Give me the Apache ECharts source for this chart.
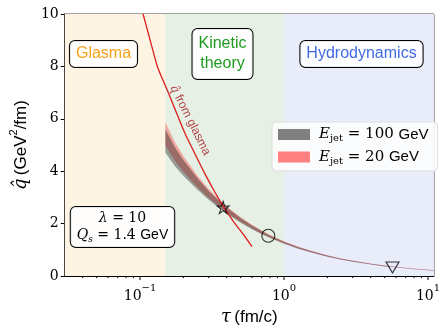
<!DOCTYPE html>
<html>
<head>
<meta charset="utf-8">
<script src="https://cdn.jsdelivr.net/npm/echarts@6/dist/echarts.min.js"></script>
<style>html,body{margin:0;padding:0;background:#fff}#c{width:443px;height:331px}</style>
</head>
<body>
<div id="c"></div>
<script>
// ---- data ----
const taus      = [0.15, 0.175, 0.2, 0.25, 0.3, 0.35, 0.4, 0.5, 0.6, 0.7, 0.8, 1.0, 1.25, 1.5, 2, 2.5, 3, 4, 5, 6, 8, 11];
const gray100Lo = [4.72, 4.19, 3.83, 3.30, 2.91, 2.62, 2.38, 2.04, 1.79, 1.60, 1.45, 1.23, 1.045, 0.915, 0.74, 0.625, 0.545, 0.44, 0.37, 0.325, 0.262, 0.205];
const gray100Hi = [5.60, 4.91, 4.43, 3.74, 3.25, 2.90, 2.62, 2.22, 1.93, 1.72, 1.55, 1.31, 1.115, 0.975, 0.79, 0.665, 0.585, 0.47, 0.40, 0.349, 0.282, 0.225];
const red20Lo   = [4.98, 4.39, 3.98, 3.40, 2.98, 2.67, 2.42, 2.07, 1.815, 1.62, 1.47, 1.25, 1.06, 0.93, 0.75, 0.635, 0.555, 0.45, 0.378, 0.333, 0.268, 0.21];
const red20Hi   = [5.87, 5.11, 4.58, 3.84, 3.32, 2.95, 2.66, 2.25, 1.955, 1.74, 1.57, 1.33, 1.13, 0.99, 0.80, 0.675, 0.595, 0.48, 0.408, 0.357, 0.288, 0.23];
const glasmaTau = [0.105, 0.115, 0.123, 0.132, 0.145, 0.16, 0.18, 0.207, 0.24, 0.282, 0.33, 0.382, 0.45, 0.52, 0.6];
const glasmaQ   = [10, 9.2, 8.6, 8.0, 7.45, 6.9, 6.2, 5.4, 4.68, 3.91, 3.22, 2.63, 2.05, 1.6, 1.12];
const starPt = [0.378, 2.62];
const circlePt = [0.778, 1.54];
const trianglePt = [5.67, 0.33];
const regions = [[0.03, 0.15, '#fdf4e4'], [0.15, 1.0, '#e6f0e4'], [1.0, 11, '#e9edfa']];
const xMajor = [0.1, 1, 10];
const xMinor = [0.04,0.05,0.06,0.07,0.08,0.09,0.2,0.3,0.4,0.5,0.6,0.7,0.8,0.9,2,3,4,5,6,7,8,9];

const chart = echarts.init(document.getElementById('c'), null, {renderer: 'canvas'});
const SERIF = '"DejaVu Serif"';
const SANS = '"Liberation Sans"';

function tickSeries(vals, len) {
  return {
    type: 'custom', silent: true, clip: false, z: 10,
    data: vals.map(v => [v, 0]),
    renderItem: (params, api) => {
      const p = api.coord([api.value(0), 0]);
      return {type: 'line', shape: {x1: p[0], y1: p[1], x2: p[0], y2: p[1] + len},
              style: {stroke: '#000', lineWidth: 1}};
    }
  };
}

function bandSeries(name, lo, hi, fill, legendColor) {
  return {
    type: 'custom', name: name, silent: true, z: 3,
    itemStyle: {color: legendColor},
    encode: {x: 0, y: [1, 2]},
    data: taus.map((t, i) => [t, lo[i], hi[i]]),
    renderItem: (params, api) => {
      if (params.dataIndexInside !== 0) return null;
      const n = params.dataInsideLength;
      const top = [], bot = [];
      for (let i = 0; i < n; i++) {
        bot.push(api.coord([api.value(0, i), api.value(1, i)]));
        top.push(api.coord([api.value(0, i), api.value(2, i)]));
      }
      return {type: 'polygon', shape: {points: bot.concat(top.reverse())},
              style: {fill: fill, stroke: null}};
    }
  };
}

const option = {
  animation: false,
  grid: {left: 59, right: 5, top: 14, bottom: 50, show: true, borderColor: '#444', borderWidth: 1},
  xAxis: {
    type: 'log', logBase: 10, min: 0.03, max: 11,
    splitLine: {show: false},
    axisLine: {lineStyle: {color: '#000', width: 1}},
    axisTick: {show: false},
    axisLabel: {
      margin: 7,
      formatter: v => {
        const e = Math.round(Math.log10(v));
        if (Math.abs(Math.log10(v) - e) > 1e-6) return '';
        return '{b|10}{s|' + (e < 0 ? '\u2212' + (-e) : e) + '}';
      },
      rich: {
        b: {fontFamily: SERIF, fontSize: 14, color: '#000', lineHeight: 20, verticalAlign: 'bottom'},
        s: {fontFamily: SERIF, fontSize: 10, color: '#000', lineHeight: 20, verticalAlign: 'top'}
      }
    },
    name: '{t|\u03c4} {s|(fm/c)}', nameLocation: 'middle', nameGap: 30,
    nameTextStyle: {rich: {
      t: {fontFamily: SERIF, fontStyle: 'italic', fontSize: 18, color: '#000'},
      s: {fontFamily: SANS, fontSize: 17, color: '#000'}
    }}
  },
  yAxis: {
    type: 'value', min: 0, max: 10, interval: 2,
    splitLine: {show: false},
    axisLine: {show: true, lineStyle: {color: '#000', width: 1}},
    axisTick: {show: true, length: 4, lineStyle: {color: '#000'}},
    axisLabel: {fontFamily: SERIF, fontSize: 14, color: '#000', margin: 6},
    name: '{q|q\u0302} {s|(GeV}{p|2}{s|/fm)}', nameLocation: 'middle', nameGap: 27,
    nameTextStyle: {rich: {
      q: {fontFamily: SERIF, fontStyle: 'italic', fontSize: 18, color: '#000', lineHeight: 22, verticalAlign: 'bottom'},
      s: {fontFamily: SANS, fontSize: 17, color: '#000', lineHeight: 22, verticalAlign: 'bottom'},
      p: {fontFamily: SANS, fontSize: 11, color: '#000', lineHeight: 22, verticalAlign: 'top'}
    }}
  },
  legend: {
    orient: 'vertical', left: 272, top: 122,
    padding: [5, 9, 5, 6], itemGap: 6, itemWidth: 32, itemHeight: 11,
    icon: 'rect',
    backgroundColor: 'rgba(255,255,255,0.8)', borderColor: '#ddd', borderWidth: 1, borderRadius: 4,
    data: [
      {name: 'g100', itemStyle: {color: '#808080'}},
      {name: 'r20', itemStyle: {color: '#ff8080'}}
    ],
    formatter: n => n === 'g100' ? '{e|E}{sub|jet}{n| = 100 }{sf|GeV}' : '{e|E}{sub|jet}{n| = 20 }{sf|GeV}',
    textStyle: {padding: [0, 0, 0, 4], rich: {
      e: {fontFamily: SERIF, fontStyle: 'italic', fontSize: 15, color: '#000', lineHeight: 18},
      sub: {fontFamily: SERIF, fontSize: 10, color: '#000', lineHeight: 18, verticalAlign: 'bottom'},
      n: {fontFamily: SERIF, fontSize: 15, color: '#000', lineHeight: 18},
      sf: {fontFamily: SANS, fontSize: 15, color: '#000', lineHeight: 18}
    }}
  },
  series: [
    {
      type: 'line', name: 'bg', data: [], silent: true,
      markArea: {silent: true, data: regions.map(r => [
        {xAxis: r[0], yAxis: 0, itemStyle: {color: r[2]}},
        {xAxis: r[1], yAxis: 10}
      ])}
    },
    bandSeries('r20', red20Lo, red20Hi, 'rgba(255,0,0,0.3)', '#ff8080'),
    bandSeries('g100', gray100Lo, gray100Hi, 'rgba(0,0,0,0.35)', '#808080'),
    {
      type: 'line', name: 'glasma', data: glasmaTau.map((t, i) => [t, glasmaQ[i]]), z: 4,
      showSymbol: false, smooth: 0.3, lineStyle: {color: '#dd1c1c', width: 1.3}
    },
    {
      type: 'scatter', name: 'markers', z: 5, silent: true,
      data: [
        {value: starPt, symbol: 'path://M50 0 L61.17 34.63 L97.55 34.55 L68.07 55.87 L79.39 90.45 L50 69 L20.61 90.45 L31.93 55.87 L2.45 34.55 L38.83 34.63 Z', symbolSize: 12},
        {value: circlePt, symbol: 'circle', symbolSize: 13},
        {value: trianglePt, symbol: 'triangle', symbolSize: [13, 11], symbolRotate: 180}
      ],
      itemStyle: {color: 'rgba(0,0,0,0)', borderColor: '#000', borderWidth: 1.1}
    },
    tickSeries(xMajor, 4),
    tickSeries(xMinor, 2)
  ],
  graphic: [
    {type: 'text', x: 103.5, y: 54, z: 20, style: {
      text: 'Glasma', fill: '#f7a21b', font: '16px "Liberation Sans"', align: 'center', verticalAlign: 'middle',
      backgroundColor: 'rgba(255,255,255,0.9)', borderColor: '#000', borderWidth: 1, borderRadius: 5, padding: [5, 6, 5, 6]}},
    {type: 'text', x: 222.5, y: 54, z: 20, style: {
      text: 'Kinetic\ntheory', fill: '#1f9a1f', font: '16px "Liberation Sans"', lineHeight: 20, align: 'center', verticalAlign: 'middle',
      backgroundColor: 'rgba(255,255,255,0.9)', borderColor: '#000', borderWidth: 1, borderRadius: 5, padding: [5, 6, 5, 6]}},
    {type: 'text', x: 361.5, y: 54, z: 20, style: {
      text: 'Hydrodynamics', fill: '#4169e1', font: '16px "Liberation Sans"', align: 'center', verticalAlign: 'middle',
      backgroundColor: 'rgba(255,255,255,0.9)', borderColor: '#000', borderWidth: 1, borderRadius: 5, padding: [5, 6, 5, 6]}},
    {type: 'text', x: 122.5, y: 227, z: 20, style: {
      text: '{i|\u03bb}{n| = 10}\n{i|Q}{sub|s}{n| = 1.4 }{sf|GeV}', align: 'center', verticalAlign: 'middle',
      backgroundColor: 'rgba(255,255,255,0.9)', borderColor: '#000', borderWidth: 1, borderRadius: 5, padding: [3, 6, 3, 6],
      rich: {
        i: {fontFamily: SERIF, fontStyle: 'italic', fontSize: 14, fill: '#000', lineHeight: 17},
        sub: {fontFamily: SERIF, fontStyle: 'italic', fontSize: 9, fill: '#000', lineHeight: 17, verticalAlign: 'bottom'},
        n: {fontFamily: SERIF, fontSize: 14, fill: '#000', lineHeight: 17},
        sf: {fontFamily: SANS, fontSize: 14, fill: '#000', lineHeight: 17}
      }}},
    {type: 'text', x: 190, y: 120, z: 20, rotation: -1.107, style: {
      text: '{q|q\u0302} {s|from glasma}', align: 'center', verticalAlign: 'middle',
      rich: {
        q: {fontFamily: SERIF, fontStyle: 'italic', fontSize: 12, fill: '#b5474a'},
        s: {fontFamily: SANS, fontSize: 12, fill: '#b5474a'}
      }}}
  ]
};
chart.setOption(option);
</script>
</body>
</html>
